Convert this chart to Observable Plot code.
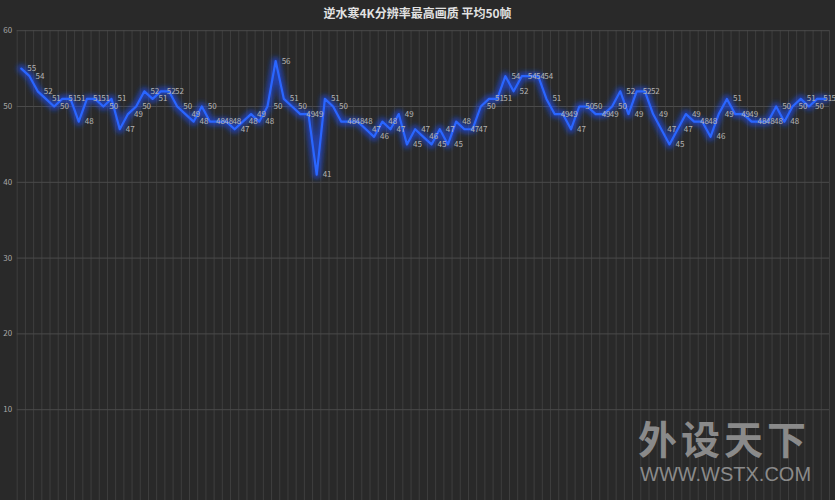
<!DOCTYPE html>
<html>
<head>
<meta charset="utf-8">
<script src="https://cdn.jsdelivr.net/npm/d3@7"></script>
<script src="https://cdn.jsdelivr.net/npm/@observablehq/plot@0.6"></script>
<style>
  html, body { margin: 0; padding: 0; background: #292929; }
  #wrap { position: relative; width: 835px; height: 500px; overflow: hidden; background: #292929; }
  #title { height: 20px; padding-top: 4px; line-height: 20px; text-align: center; color: #e2e2e2;
           font: bold 12px "Noto Sans CJK SC", sans-serif; }
  .wm { position: absolute; color: #8a8a8a; white-space: nowrap; }
  #wm1 { left: 638px; top: 420px; font: bold 39px/34px "Noto Sans CJK SC", sans-serif; letter-spacing: 4px; }
  #wm2 { left: 640px; top: 466px; font: 20px/16px "Liberation Sans", sans-serif; }
</style>
</head>
<body>
<div id="wrap">
  <div id="title"></div>
  <div id="chart"></div>
  <div class="wm" id="wm1">外设天下</div>
  <div class="wm" id="wm2">WWW.WSTX.COM</div>
</div>
<script>
const chartTitle = "逆水寒4K分辨率最高画质 平均50帧";
const frames = [
  55, 54, 52, 51, 50, 51, 51, 48, 51, 51,
  50, 51, 47, 49, 50, 52, 51, 52, 52, 50,
  49, 48, 50, 48, 48, 48, 47, 48, 49, 48,
  50, 56, 51, 50, 49, 49, 41, 51, 50, 48,
  48, 48, 47, 46, 48, 47, 49, 45, 47, 46,
  45, 47, 45, 48, 47, 47, 50, 51, 51, 54,
  52, 54, 54, 54, 51, 49, 49, 47, 50, 50,
  49, 49, 50, 52, 49, 52, 52, 49, 47, 45,
  47, 49, 48, 48, 46, 49, 51, 49, 49, 48,
  48, 48, 50, 48, 50, 51, 50, 51, 51
];
const yTicks = [10, 20, 30, 40, 50, 60];

document.getElementById("title").textContent = chartTitle;

const data = frames.map((v, i) => ({i, v}));
const bounds = d3.range(frames.length + 1).map(i => i - 0.5);

const plot = Plot.plot({
  width: 835,
  height: 476,
  marginTop: 6,
  marginLeft: 16.7,
  marginRight: 6,
  marginBottom: 0,
  style: {background: "transparent", fontFamily: "'Noto Sans CJK SC', sans-serif", overflow: "visible"},
  x: {domain: [-0.5, frames.length - 0.5], axis: null},
  y: {domain: [0, 60], range: [461, 6.2], axis: null},
  marks: [
    Plot.ruleX(bounds, {stroke: "#3e3e3e", strokeWidth: 1}),
    Plot.ruleY(yTicks, {stroke: "#4a4a4a", strokeWidth: 1}),
    Plot.axisY({ticks: yTicks, label: null, tickSize: 0, tickPadding: 5, fontSize: 8, fill: "#a8a8a8"}),
    Plot.line(data, {x: "i", y: "v", stroke: "#1a50ff", strokeWidth: 8, strokeOpacity: 0.6, className: "glowline"}),
    Plot.line(data, {x: "i", y: "v", stroke: "#2a66ff", strokeWidth: 2.2}),
    Plot.text(data, {x: "i", y: "v", text: d => String(d.v), dx: 6, textAnchor: "start", fill: "#b4b4b4", fontSize: 8})
  ]
});

const ns = "http://www.w3.org/2000/svg";
const defs = document.createElementNS(ns, "defs");
const filter = document.createElementNS(ns, "filter");
filter.setAttribute("id", "glowf");
filter.setAttribute("x", "-10%"); filter.setAttribute("y", "-20%");
filter.setAttribute("width", "120%"); filter.setAttribute("height", "140%");
const blur = document.createElementNS(ns, "feGaussianBlur");
blur.setAttribute("stdDeviation", "2.4");
filter.appendChild(blur);
defs.appendChild(filter);
plot.insertBefore(defs, plot.firstChild);
const glow = plot.querySelector(".glowline");
if (glow) glow.setAttribute("filter", "url(#glowf)");

document.getElementById("chart").appendChild(plot);
</script>
</body>
</html>
